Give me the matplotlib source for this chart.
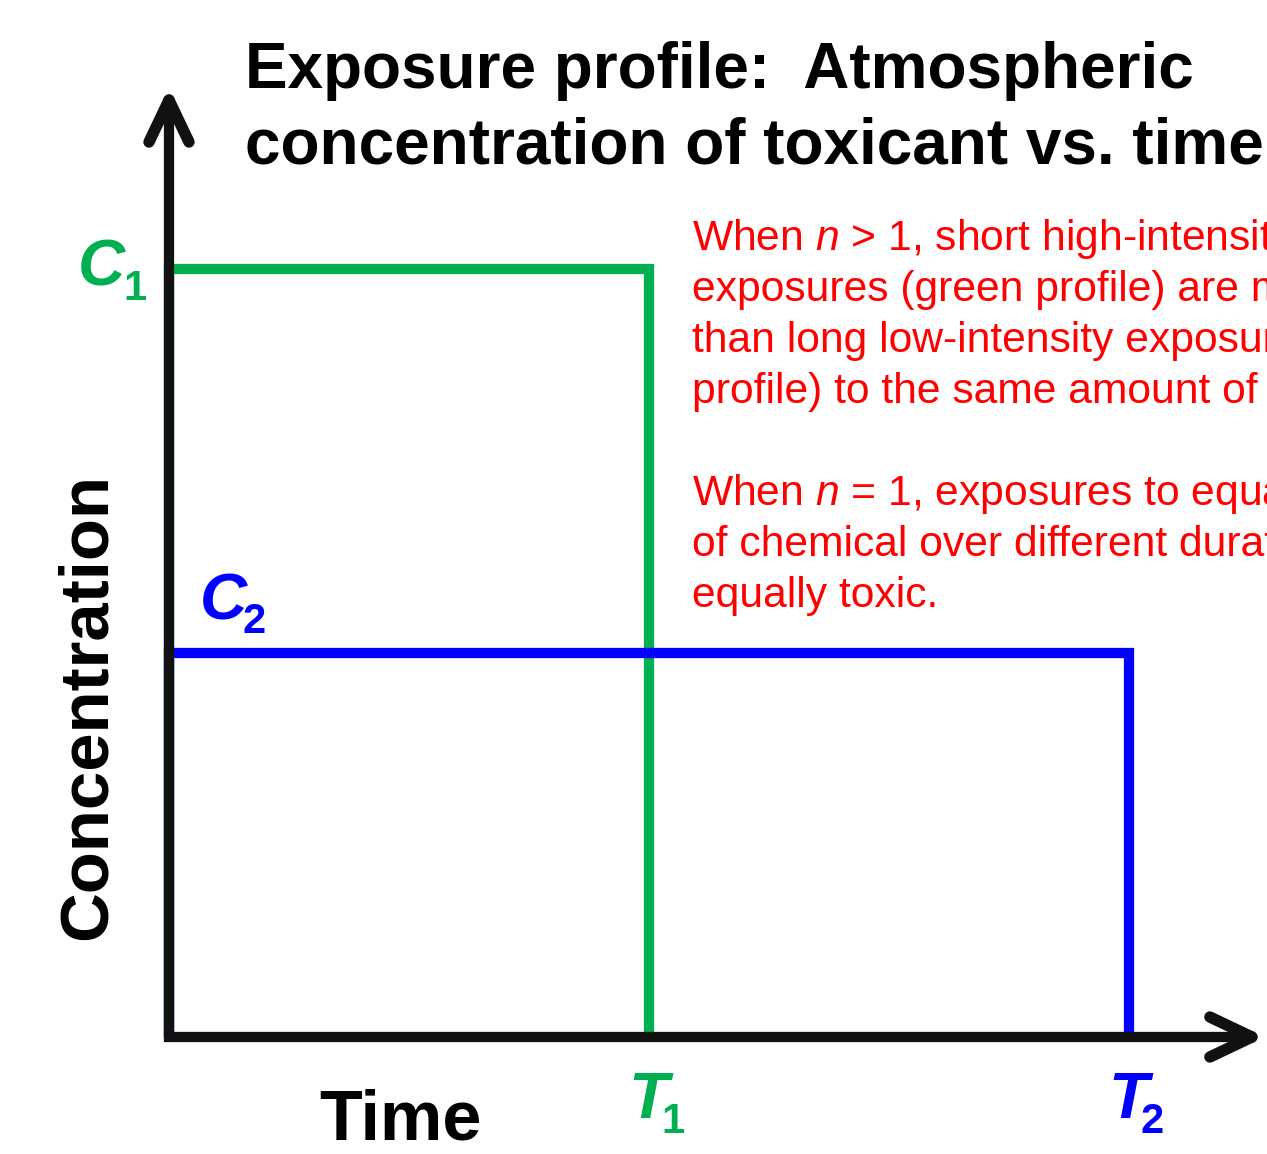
import matplotlib
matplotlib.use("Agg")
import matplotlib.pyplot as plt
import numpy as np

# ---------------- data ----------------
times = [1.0, 2.0]            # T1, T2
concs = [2.0, 1.0]            # C1, C2
profile_colors = ["#00B050", "#0000FF"]
time_labels = ["T", "T"]
time_subs = ["1", "2"]
conc_labels = ["C", "C"]
conc_subs = ["1", "2"]

title_lines = ["Exposure profile:  Atmospheric", "concentration of toxicant vs. time"]
xlabel = "Time"
ylabel = "Concentration"
note_lines = [
    "When $n$ > 1, short high-intensity",
    "exposures (green profile) are more toxic",
    "than long low-intensity exposures (blue",
    "profile) to the same amount of chemical.",
    "",
    "When $n$ = 1, exposures to equal amounts",
    "of chemical over different durations are",
    "equally toxic.",
]

plt.rcParams["font.family"] = ["Liberation Sans", "DejaVu Sans"]
plt.rcParams["mathtext.fontset"] = "custom"
plt.rcParams["mathtext.rm"] = "Liberation Sans"
plt.rcParams["mathtext.it"] = "Liberation Sans:italic"
plt.rcParams["mathtext.bf"] = "Liberation Sans:bold"

W, H = 1267, 1154
fig = plt.figure(figsize=(W / 100, H / 100), dpi=100)
ax = fig.add_axes([0, 0, 1, 1])
ax.axis("off")
ax.set_xlim(-169 / 480, (W - 169) / 480)
ax.set_ylim(-117 / 384, (H - 117) / 384)

LW = 7.4
AXC = "#111111"

# profiles
for T, C, col in zip(times, concs, profile_colors):
    ax.plot([0, 0, T, T], [0, C, C, 0], color=col, lw=LW,
            solid_joinstyle="miter", solid_capstyle="butt", zorder=2)

# axes with arrows
x_end = 2.256
y_end = 2.44
ax.plot([0, 0, x_end], [y_end, 0, 0], color=AXC, lw=LW,
        solid_joinstyle="miter", solid_capstyle="butt", zorder=3)

def px_to_data(px, py):
    return ax.transData.inverted().transform((px, py))

fig.canvas.draw()
tip_v = ax.transData.transform((0, y_end))
tip_h = ax.transData.transform((x_end, 0))
for sx in (-20, 20):
    w = px_to_data(tip_v[0] + sx, tip_v[1] - 42)
    ax.plot([w[0], 0], [w[1], y_end], color=AXC, lw=LW + 0.8,
            solid_capstyle="round", zorder=3)
for sy in (-20, 20):
    w = px_to_data(tip_h[0] - 42, tip_h[1] + sy)
    ax.plot([w[0], x_end], [w[1], 0], color=AXC, lw=LW + 0.8,
            solid_capstyle="round", zorder=3)

# concentration labels
conc_offsets = [((-91, -16), (-46, -31)), ((31, 34), (73, 20))]
for C, lab, sub, col, (o1, o2) in zip(concs, conc_labels, conc_subs,
                                      profile_colors, conc_offsets):
    ax.annotate(lab, xy=(0, C), xytext=o1, textcoords="offset pixels",
                ha="left", va="baseline", fontsize=47, fontweight="bold",
                fontstyle="italic", color=col)
    ax.annotate(sub, xy=(0, C), xytext=o2, textcoords="offset pixels",
                ha="left", va="baseline", fontsize=30, fontweight="bold",
                color=col)

# time labels
for T, lab, sub, col in zip(times, time_labels, time_subs, profile_colors):
    ax.annotate(lab, xy=(T, 0), xytext=(-21, -81), textcoords="offset pixels",
                ha="left", va="baseline", fontsize=47, fontweight="bold",
                fontstyle="italic", color=col)
    ax.annotate(sub, xy=(T, 0), xytext=(12, -96), textcoords="offset pixels",
                ha="left", va="baseline", fontsize=30, fontweight="bold",
                color=col)

# title
fig.text(245 / W, 1 - 88 / H, title_lines[0], fontsize=46, fontweight="bold",
         ha="left", va="baseline")
fig.text(245 / W, 1 - 164 / H, title_lines[1], fontsize=46, fontweight="bold",
         ha="left", va="baseline")

# axis labels
fig.text(88 / W, 1 - 706 / H, ylabel, fontsize=49.6, fontweight="bold",
         rotation=90, ha="center", va="center")
fig.text(319 / W, 1 - 1140 / H, xlabel, fontsize=50.5, fontweight="bold",
         ha="left", va="baseline")

# note
for i, line in enumerate(note_lines):
    if line:
        fig.text(692 / W, 1 - (250 + 51 * i) / H, line, fontsize=30.7,
                 color="#FF0000", ha="left", va="baseline")

fig.savefig("out.png", dpi=100)
